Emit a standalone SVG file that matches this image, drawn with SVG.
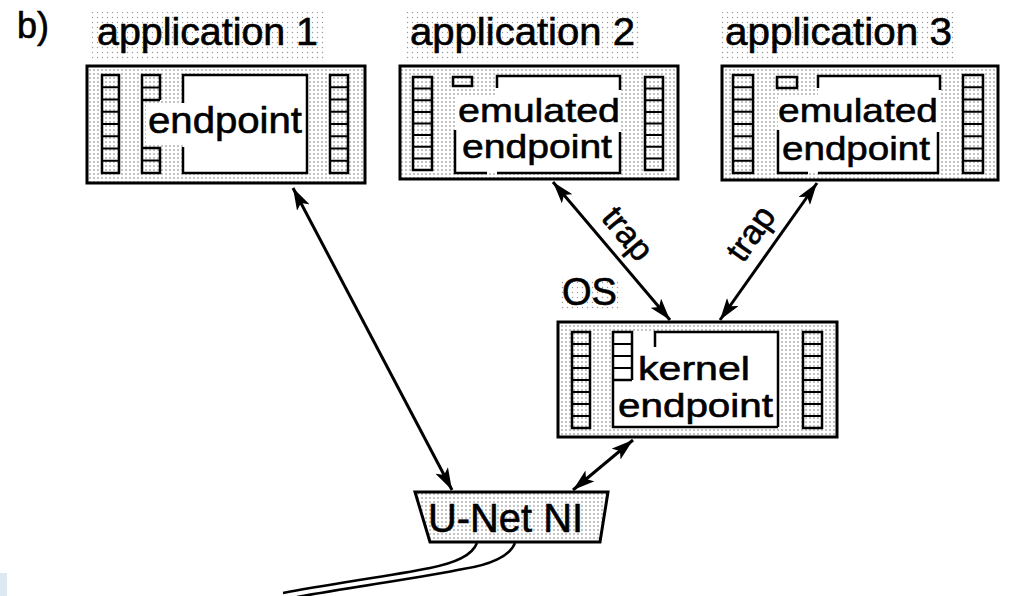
<svg xmlns="http://www.w3.org/2000/svg" width="1009" height="596" viewBox="0 0 1009 596">
  <defs>
    <!-- light halftone screen used for the shaded panels -->
    <pattern id="dots" width="4" height="4" patternUnits="userSpaceOnUse">
      <rect width="4" height="4" fill="#ffffff"/>
      <circle cx="2" cy="2" r="0.8" fill="#7a7a7a"/>
    </pattern>
    <pattern id="dotsLight" width="5" height="5" patternUnits="userSpaceOnUse">
      <rect width="5" height="5" fill="#ffffff"/>
      <circle cx="2.5" cy="2.5" r="0.7" fill="#9a9a9a"/>
    </pattern>
    <marker id="head" markerUnits="userSpaceOnUse" markerWidth="24" markerHeight="14" refX="22" refY="7" orient="auto-start-reverse">
      <path d="M0,0 L22,7 L0,14 L5,7 z" fill="#000"/>
    </marker>
    <style>
      .box { fill: url(#dots); stroke: #000; stroke-width: 3; }
      .shade { fill: url(#dotsLight); stroke: none; }
      .col { fill: none; stroke: #000; stroke-width: 2.5; }
      .cell { stroke: #000; stroke-width: 2; }
      .line { fill: none; stroke: #000; stroke-width: 2.5; }
      .white { fill: #ffffff; stroke: none; }
      .txt { font-family: "Liberation Sans", Arial, Helvetica, sans-serif; fill: #000; stroke: #000; stroke-width: 0.6; }
      .title { font-size: 38px; }
      .inner { font-size: 37px; }
      .two { font-size: 34px; }
      .conn { fill: none; stroke: #000; stroke-width: 3; marker-start: url(#head); marker-end: url(#head); }
      .cable { fill: none; stroke: #000; stroke-width: 2.5; }
    </style>
  </defs>

  <rect width="1009" height="596" fill="#ffffff"/>
  <rect x="0" y="573" width="7" height="23" fill="#dde9f2"/>

  <text class="txt" x="17" y="38" font-size="36">b)</text>

  <!-- application 1 -->
  <g id="app1">
    <rect class="shade" x="92" y="12" width="232" height="50"/>
    <text class="txt title" x="97" y="45" textLength="221" lengthAdjust="spacingAndGlyphs">application 1</text>
    <rect class="box" x="87" y="66" width="278" height="117"/>
    <!-- left queue -->
    <rect class="col" x="102" y="75" width="17" height="98"/>
    <path class="cell" d="M102,87.25H119M102,99.5H119M102,111.75H119M102,124H119M102,136.25H119M102,148.5H119M102,160.75H119"/>
    <!-- inner area -->
    <rect class="white" x="183" y="75" width="124" height="98"/>
    <path class="line" d="M183,103V75H307V173H183V147"/>
    <!-- second queue -->
    <rect class="white" x="146" y="105" width="40" height="40"/>
    <path class="col" d="M160,100V75H142V173H160V148H142M142,100H160"/>
    <path class="cell" d="M142,87.5H160M142,160.5H160"/>
    <text class="txt inner" x="148" y="133" textLength="154" lengthAdjust="spacingAndGlyphs">endpoint</text>
    <!-- right queue -->
    <rect class="col" x="330" y="75" width="18" height="98"/>
    <path class="cell" d="M330,87.25H348M330,99.5H348M330,111.75H348M330,124H348M330,136.25H348M330,148.5H348M330,160.75H348"/>
  </g>

  <!-- application 2 -->
  <g id="app2">
    <rect class="shade" x="405" y="12" width="235" height="50"/>
    <text class="txt title" x="410" y="45" textLength="225" lengthAdjust="spacingAndGlyphs">application 2</text>
    <rect class="box" x="400" y="66" width="278" height="113"/>
    <rect class="col" x="413" y="77" width="19" height="93"/>
    <path class="cell" d="M413,88.6H432M413,100.25H432M413,111.9H432M413,123.5H432M413,135.1H432M413,146.75H432M413,158.4H432"/>
    <rect class="col" x="453" y="77" width="19" height="9"/>
    <rect class="white" x="497" y="76" width="123" height="97"/>
    <rect class="white" x="455" y="95" width="165" height="78"/>
    <path class="line" d="M497,88V76H620V90"/>
    <path class="line" d="M455,130V173H487M497,173H620V132"/>
    <text class="txt two" x="458" y="122" textLength="162" lengthAdjust="spacingAndGlyphs">emulated</text>
    <text class="txt two" x="462" y="158" textLength="150" lengthAdjust="spacingAndGlyphs">endpoint</text>
    <rect class="col" x="645" y="77" width="18" height="93"/>
    <path class="cell" d="M645,88.6H663M645,100.25H663M645,111.9H663M645,123.5H663M645,135.1H663M645,146.75H663M645,158.4H663"/>
  </g>

  <!-- application 3 -->
  <g id="app3">
    <rect class="shade" x="720" y="12" width="237" height="50"/>
    <text class="txt title" x="725" y="45" textLength="227" lengthAdjust="spacingAndGlyphs">application 3</text>
    <rect class="box" x="722" y="66" width="276" height="114"/>
    <rect class="col" x="733" y="75" width="20" height="98"/>
    <path class="cell" d="M733,87.25H753M733,99.5H753M733,111.75H753M733,124H753M733,136.25H753M733,148.5H753M733,160.75H753"/>
    <rect class="col" x="777" y="77" width="20" height="11"/>
    <rect class="white" x="818" y="76" width="122" height="97"/>
    <rect class="white" x="778" y="95" width="162" height="78"/>
    <path class="line" d="M818,88V76H940V90"/>
    <path class="line" d="M778,130V173H808M818,173H938V132"/>
    <text class="txt two" x="778" y="122" textLength="160" lengthAdjust="spacingAndGlyphs">emulated</text>
    <text class="txt two" x="782" y="160" textLength="148" lengthAdjust="spacingAndGlyphs">endpoint</text>
    <rect class="col" x="963" y="75" width="20" height="98"/>
    <path class="cell" d="M963,87.25H983M963,99.5H983M963,111.75H983M963,124H983M963,136.25H983M963,148.5H983M963,160.75H983"/>
  </g>

  <!-- operating system with kernel endpoint -->
  <g id="os">
    <rect class="shade" x="560" y="278" width="62" height="32"/>
    <text class="txt" x="562" y="305" font-size="38" textLength="55" lengthAdjust="spacingAndGlyphs">OS</text>
    <rect class="box" x="558" y="322" width="279" height="115"/>
    <rect class="col" x="572" y="332" width="18" height="96"/>
    <path class="cell" d="M572,344H590M572,356H590M572,368H590M572,380H590M572,392H590M572,404H590M572,416H590"/>
    <rect class="white" x="613" y="332" width="165" height="95"/>
    <path class="col" d="M632,380V332H613V427H778M613,380H632"/>
    <path class="cell" d="M613,344H632M613,356H632M613,368H632"/>
    <path class="line" d="M655,347V332H778V427"/>
    <text class="txt two" x="638" y="380" textLength="112" lengthAdjust="spacingAndGlyphs">kernel</text>
    <text class="txt two" x="618" y="417" textLength="155" lengthAdjust="spacingAndGlyphs">endpoint</text>
    <rect class="col" x="803" y="332" width="19" height="96"/>
    <path class="cell" d="M803,344H822M803,356H822M803,368H822M803,380H822M803,392H822M803,404H822M803,416H822"/>
  </g>

  <!-- network interface -->
  <g id="unet-ni">
    <polygon class="box" points="415,492 608,492 600,542 430,542"/>
    <text class="txt" x="428" y="532" font-size="40" textLength="155" lengthAdjust="spacingAndGlyphs">U-Net NI</text>
  </g>

  <!-- connectors -->
  <g id="connectors">
    <line class="conn" x1="293" y1="188" x2="452" y2="490"/>
    <line class="conn" x1="553" y1="182" x2="670" y2="320"/>
    <line class="conn" x1="817" y1="183" x2="720" y2="320"/>
    <line class="conn" x1="633" y1="440" x2="573" y2="490"/>
    <path class="cable" d="M477,543 C472,556 455,563 430,568 C390,576 330,584 283,593"/>
    <path class="cable" d="M515,543 C510,556 490,565 463,569 C430,576 360,586 297,597"/>
    <text class="txt" font-size="34" text-anchor="middle" transform="translate(619,241) rotate(50)">trap</text>
    <text class="txt" font-size="34" text-anchor="middle" transform="translate(760,240) rotate(-55)">trap</text>
  </g>
</svg>
